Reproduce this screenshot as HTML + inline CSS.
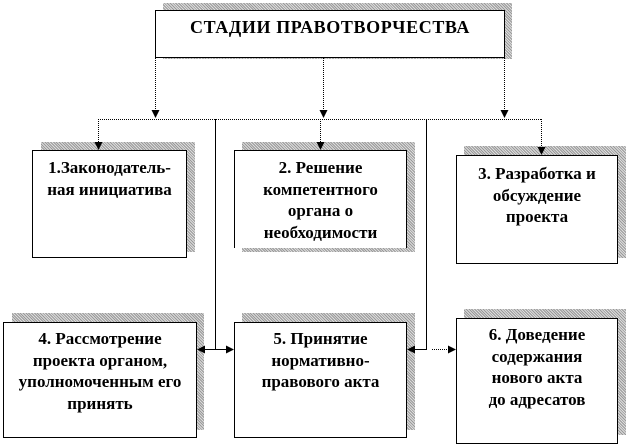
<!DOCTYPE html>
<html><head><meta charset="utf-8"><style>
body{margin:0;width:628px;height:446px;background:#fff;position:relative;overflow:hidden;font-family:"Liberation Serif","DejaVu Serif",serif;}
.sh{position:absolute;background:repeating-linear-gradient(45deg,#999 0 1px,#ddd 1px 2px);}
.b{position:absolute;background:#fff;border:1px solid #000;box-sizing:border-box;text-align:center;font-weight:bold;font-size:17px;line-height:21.7px;overflow:hidden;letter-spacing:0}
</style></head><body>
<div class="sh" style="left:163px;top:3px;width:349px;height:56px"></div>
<div class="b" style="left:155px;top:10px;width:350px;height:48px;font-size:18px;letter-spacing:0.6px;padding-top:6px">СТАДИИ ПРАВОТВОРЧЕСТВА</div>

<div class="sh" style="left:41px;top:142px;width:154px;height:110px"></div>
<div class="b" style="left:32px;top:150px;width:155px;height:108px;padding-top:6px">1.Законодатель-<br>ная инициатива</div>

<div class="sh" style="left:242px;top:142px;width:173px;height:110px"></div>
<div class="b" style="left:234px;top:150px;width:173px;height:98px;padding-top:6px;border-bottom:none">2. Решение<br>компетентного<br>органа о<br>необходимости<br>принятия акта</div>

<div class="sh" style="left:464px;top:146px;width:162px;height:112px"></div>
<div class="b" style="left:456px;top:155px;width:162px;height:109px;padding-top:7px">3. Разработка и<br>обсуждение<br>проекта</div>

<div class="sh" style="left:12px;top:313px;width:192px;height:117px"></div>
<div class="b" style="left:3px;top:322px;width:194px;height:116px;padding-top:5px">4. Рассмотрение<br>проекта органом,<br>уполномоченным его<br>принять</div>

<div class="sh" style="left:242px;top:313px;width:173px;height:117px"></div>
<div class="b" style="left:234px;top:322px;width:173px;height:116px;padding-top:5px">5. Принятие<br>нормативно-<br>правового акта</div>

<div class="sh" style="left:464px;top:309px;width:162px;height:126px"></div>
<div class="b" style="left:456px;top:318px;width:162px;height:126px;padding-top:5px">6. Доведение<br>содержания<br>нового акта<br>до адресатов</div>

<svg width="628" height="446" style="position:absolute;left:0;top:0" >
<defs><marker id="a" markerWidth="8" markerHeight="8" refX="7" refY="4" orient="auto" markerUnits="userSpaceOnUse"><path d="M0,0L8,4L0,8z" fill="#000"/></marker></defs>
<g stroke="#000" stroke-width="1" fill="none">
<g stroke-dasharray="1,1">
<line x1="155.5" y1="58" x2="155.5" y2="117" marker-end="url(#a)"/>
<line x1="323.5" y1="58" x2="323.5" y2="117" marker-end="url(#a)"/>
<line x1="504.5" y1="58" x2="504.5" y2="117" marker-end="url(#a)"/>
<line x1="98" y1="119.5" x2="541" y2="119.5"/>
<line x1="98.5" y1="119" x2="98.5" y2="149" marker-end="url(#a)"/>
<line x1="320.5" y1="119" x2="320.5" y2="149" marker-end="url(#a)"/>
<line x1="541.5" y1="119" x2="541.5" y2="154" marker-end="url(#a)"/>
<line x1="432" y1="349.5" x2="455" y2="349.5" marker-end="url(#a)"/>
</g>
<line x1="215.5" y1="119" x2="215.5" y2="350"/>
<line x1="426.5" y1="119" x2="426.5" y2="350"/>
<line x1="215" y1="349.5" x2="198" y2="349.5" marker-end="url(#a)"/>
<line x1="215" y1="349.5" x2="233" y2="349.5" marker-end="url(#a)"/>
<line x1="426" y1="349.5" x2="408" y2="349.5" marker-end="url(#a)"/>
</g></svg>
</body></html>
